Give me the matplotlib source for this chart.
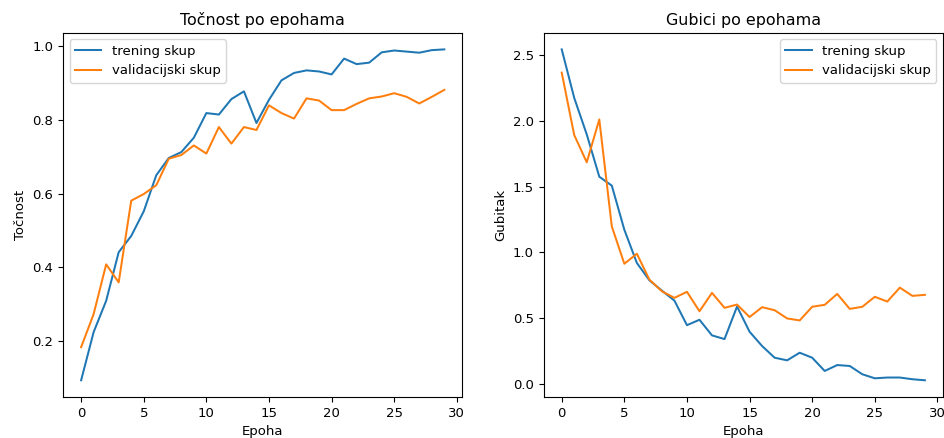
import matplotlib
matplotlib.use('Agg')
import matplotlib.pyplot as plt

epohe = list(range(30))

# tocnost
train_acc = [0.093, 0.224, 0.309, 0.441, 0.485, 0.552, 0.650, 0.697, 0.713, 0.752,
             0.819, 0.815, 0.857, 0.878, 0.792, 0.855, 0.908, 0.928, 0.935, 0.932,
             0.924, 0.967, 0.952, 0.956, 0.984, 0.989, 0.986, 0.983, 0.990, 0.992]
val_acc = [0.183, 0.273, 0.408, 0.359, 0.581, 0.599, 0.623, 0.695, 0.705, 0.731,
           0.709, 0.781, 0.736, 0.781, 0.773, 0.840, 0.819, 0.804, 0.859, 0.853,
           0.827, 0.827, 0.844, 0.859, 0.864, 0.873, 0.863, 0.845, 0.863, 0.882]

# gubitak
train_loss = [2.546, 2.176, 1.898, 1.576, 1.508, 1.172, 0.919, 0.787, 0.708, 0.632,
              0.445, 0.486, 0.367, 0.339, 0.587, 0.395, 0.286, 0.197, 0.177, 0.235,
              0.197, 0.096, 0.141, 0.134, 0.071, 0.040, 0.046, 0.046, 0.033, 0.025]
val_loss = [2.369, 1.893, 1.686, 2.012, 1.197, 0.913, 0.989, 0.792, 0.703, 0.653,
            0.699, 0.551, 0.691, 0.577, 0.602, 0.507, 0.582, 0.559, 0.496, 0.481,
            0.585, 0.600, 0.683, 0.569, 0.585, 0.661, 0.625, 0.731, 0.668, 0.676]

plt.rcParams['font.size'] = 9.5
plt.rcParams['lines.linewidth'] = 1.45

fig, (ax1, ax2) = plt.subplots(1, 2, figsize=(9.44, 4.38), dpi=100)
fig.subplots_adjust(left=0.0667, right=0.999, bottom=0.094, top=0.925, wspace=0.203)

ax1.plot(epohe, train_acc, label='trening skup')
ax1.plot(epohe, val_acc, label='validacijski skup')
ax1.set_title('Točnost po epohama')
ax1.set_xlabel('Epoha')
ax1.set_ylabel('Točnost')
ax1.legend(loc='upper left')

ax2.plot(epohe, train_loss, label='trening skup')
ax2.plot(epohe, val_loss, label='validacijski skup')
ax2.set_title('Gubici po epohama')
ax2.set_xlabel('Epoha')
ax2.set_ylabel('Gubitak')
ax2.legend(loc='upper right')

fig.savefig('out.png', dpi=100)
